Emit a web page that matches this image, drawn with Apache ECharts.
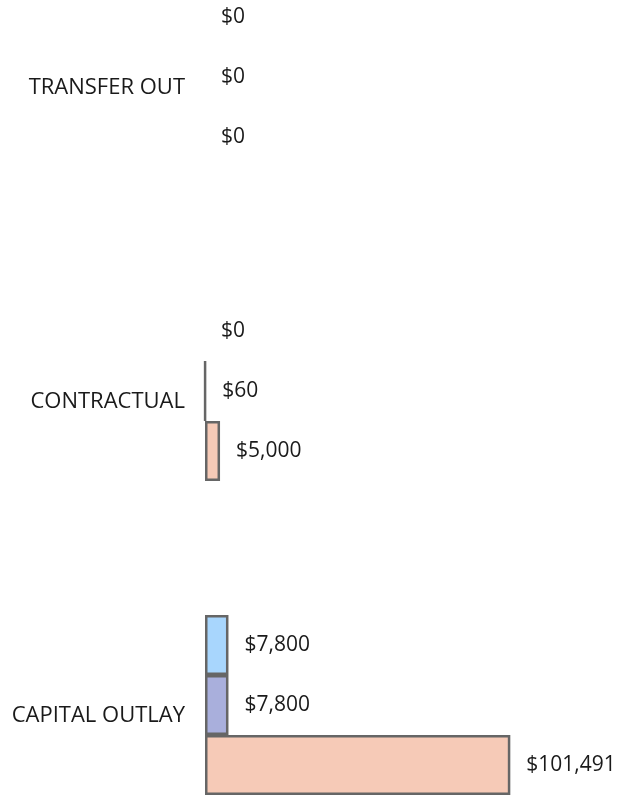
<!DOCTYPE html>
<html>
<head>
<meta charset="utf-8">
<script src="https://cdn.jsdelivr.net/npm/echarts@6/dist/echarts.min.js"></script>
<style>
  html, body { margin: 0; padding: 0; background: #fff; overflow: hidden; width: 619px; height: 799px; }
  #chart { position: relative; top: -80px; width: 619px; height: 942px; }
</style>
</head>
<body>
<div id="chart"></div>
<script>
const categories = ["CAPITAL OUTLAY", "CONTRACTUAL", "TRANSFER OUT"];
const blueValues = [7800, 0, 0];
const lavenderValues = [7800, 60, 0];
const peachValues = [101491, 5000, 0];

const font = "'Open Sans', 'Noto Sans', sans-serif";

function money(v) {
  return "$" + Number(v).toLocaleString("en-US");
}

function makeSeries(name, values, color) {
  return {
    type: "bar",
    name: name,
    barWidth: 60,
    barGap: "0%",
    data: values.map((v) => ({
      value: v,
      itemStyle: { borderWidth: v === 0 ? 0 : 2.5 },
    })),
    itemStyle: {
      color: color,
      borderColor: "#666666",
      borderWidth: 2.5,
    },
    label: {
      show: true,
      position: "right",
      distance: 16,
      fontFamily: font,
      fontSize: 21,
      color: "#1a1a1a",
      formatter: (p) => money(p.value),
    },
  };
}

const option = {
  animation: false,
  grid: {
    left: 205,
    right: 53,
    top: 0,
    bottom: 0,
    containLabel: false,
  },
  xAxis: {
    type: "value",
    min: 0,
    max: 120000,
    show: false,
  },
  yAxis: {
    type: "category",
    data: categories,
    axisLine: { show: false },
    axisTick: { show: false },
    axisLabel: {
      margin: 20,
      verticalAlign: "top",
      lineHeight: 22,
      fontFamily: font,
      fontSize: 22,
      color: "#1a1a1a",
    },
  },
  series: [
    makeSeries("Blue", blueValues, "#a8d6fd"),
    makeSeries("Lavender", lavenderValues, "#a9afdc"),
    makeSeries("Peach", peachValues, "#f6cab7"),
  ],
};

const chart = echarts.init(document.getElementById("chart"));
chart.setOption(option);
window.addEventListener("resize", () => {
  chart.resize();
});
</script>
</body>
</html>
